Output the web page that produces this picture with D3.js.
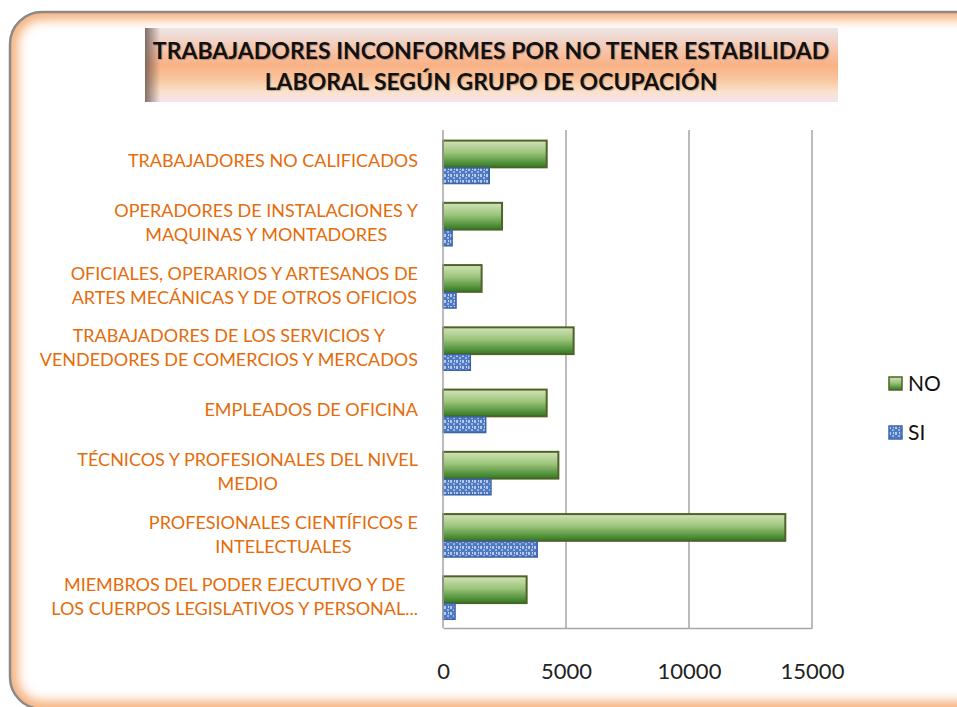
<!DOCTYPE html>
<html>
<head>
<meta charset="utf-8">
<script src="https://cdn.jsdelivr.net/npm/d3@7"></script>
<style>
  html, body { margin: 0; padding: 0; background: #fff; overflow: hidden; }
  svg { display: block; }
</style>
</head>
<body>
<svg id="chart" width="957" height="707"></svg>
<script>
// categories, top to bottom as shown
var categories = [
  ["TRABAJADORES NO CALIFICADOS"],
  ["OPERADORES DE INSTALACIONES Y", "MAQUINAS Y MONTADORES"],
  ["OFICIALES, OPERARIOS Y ARTESANOS DE", "ARTES MECÁNICAS Y DE OTROS OFICIOS"],
  ["TRABAJADORES DE LOS SERVICIOS Y", "VENDEDORES DE COMERCIOS Y MERCADOS"],
  ["EMPLEADOS DE OFICINA"],
  ["TÉCNICOS Y PROFESIONALES DEL NIVEL", "MEDIO"],
  ["PROFESIONALES CIENTÍFICOS E", "INTELECTUALES"],
  ["MIEMBROS DEL PODER EJECUTIVO Y DE", "LOS CUERPOS LEGISLATIVOS Y PERSONAL..."]
];
var noValues = [4215, 2400, 1570, 5310, 4215, 4690, 13915, 3400];
var siValues = [1880, 370, 530, 1110, 1735, 1950, 3830, 490];
var xTicks = [0, 5000, 10000, 15000];
var seriesNames = ["NO", "SI"];
var titleLines = ["TRABAJADORES INCONFORMES POR NO TENER ESTABILIDAD", "LABORAL SEGÚN GRUPO DE OCUPACIÓN"];

var svg = d3.select("#chart");
var defs = svg.append("defs");

// ---- gradients / patterns
var frameClip = defs.append("clipPath").attr("id", "frameClip");
frameClip.append("rect").attr("x", 10).attr("y", 12).attr("width", 1000).attr("height", 697).attr("rx", 32);

defs.append("filter").attr("id", "glow").attr("x", "-10%").attr("y", "-10%").attr("width", "120%").attr("height", "120%")
  .append("feGaussianBlur").attr("stdDeviation", 6);

var tg = defs.append("linearGradient").attr("id", "titleGrad").attr("x1", 0).attr("y1", 0).attr("x2", 0).attr("y2", 1);
[[0, "#ebe5e6"], [0.18, "#f2d2c4"], [0.5, "#f9b185"], [0.68, "#f9c39c"], [0.85, "#fbe0c8"], [1, "#f6e4ee"]]
  .forEach(function(s) { tg.append("stop").attr("offset", s[0]).attr("stop-color", s[1]); });

var tgl = defs.append("linearGradient").attr("id", "titleLeft").attr("x1", 0).attr("y1", 0).attr("x2", 1).attr("y2", 0);
tgl.append("stop").attr("offset", 0).attr("stop-color", "#6e5a52").attr("stop-opacity", 0.85);
tgl.append("stop").attr("offset", 0.022).attr("stop-color", "#6e5a52").attr("stop-opacity", 0);

var gNo = defs.append("linearGradient").attr("id", "noGrad").attr("x1", 0).attr("y1", 0).attr("x2", 0).attr("y2", 1);
[[0, "#d2e3b8"], [0.45, "#9cc47a"], [1, "#2f7a1f"]]
  .forEach(function(s) { gNo.append("stop").attr("offset", s[0]).attr("stop-color", s[1]); });

var pat = defs.append("pattern").attr("id", "siPat").attr("width", 6).attr("height", 6).attr("patternUnits", "userSpaceOnUse");
pat.append("rect").attr("width", 6).attr("height", 6).attr("fill", "#4f79c0");
pat.append("rect").attr("x", 0).attr("y", 0).attr("width", 2).attr("height", 3).attr("fill", "#b4c9ec");
pat.append("rect").attr("x", 3).attr("y", 3).attr("width", 2).attr("height", 2).attr("fill", "#9ab5e4");
pat.append("rect").attr("x", 4).attr("y", 0).attr("width", 1).attr("height", 2).attr("fill", "#c9d8f2");

// ---- outer frame
var fg = svg.append("g").attr("clip-path", "url(#frameClip)");
fg.append("rect").attr("x", 10).attr("y", 12).attr("width", 1000).attr("height", 697).attr("fill", "#fff");
fg.append("rect").attr("x", 10).attr("y", 12).attr("width", 1000).attr("height", 697).attr("rx", 32)
  .attr("fill", "none").attr("stroke", "#f4a56a").attr("stroke-width", 14).attr("filter", "url(#glow)");
svg.append("rect").attr("x", 10).attr("y", 12).attr("width", 1000).attr("height", 697).attr("rx", 32)
  .attr("fill", "none").attr("stroke", "#8a8a8a").attr("stroke-width", 2.5);

// ---- title
svg.append("rect").attr("x", 145).attr("y", 28).attr("width", 693).attr("height", 74).attr("fill", "url(#titleGrad)");
svg.append("rect").attr("x", 145).attr("y", 28).attr("width", 693).attr("height", 74).attr("fill", "url(#titleLeft)");
svg.append("g").selectAll("text").data(titleLines).join("text")
  .attr("x", 491).attr("y", function(d, i) { return 59 + i * 31; })
  .attr("text-anchor", "middle")
  .attr("font-family", "Lato, sans-serif").attr("font-weight", "bold").attr("font-size", 23)
  .attr("fill", "#111")
  .style("text-shadow", "1px 1px 1px rgba(0,0,0,0.25)")
  .text(function(d) { return d; });

// ---- plot
var x = d3.scaleLinear().domain([0, 15000]).range([443, 812]);
var y = d3.scaleBand().domain(d3.range(categories.length)).range([130, 628]).paddingInner(0).paddingOuter(0);
var bw = y.bandwidth();

// gridlines
svg.append("g").selectAll("line").data(xTicks.slice(1)).join("line")
  .attr("x1", x).attr("x2", x).attr("y1", 130).attr("y2", 628)
  .attr("stroke", "#a6a6a6").attr("stroke-width", 1.5);

// x axis
var xAxis = d3.axisBottom(x).tickValues(xTicks).tickSize(0).tickPadding(0).tickFormat(d3.format("d"));
var gx = svg.append("g").attr("transform", "translate(0,628)").call(xAxis);
gx.select(".domain").attr("stroke", "#a6a6a6").attr("stroke-width", 1.5);
gx.selectAll("text").attr("y", 51).attr("dy", 0)
  .attr("font-family", "Lato, sans-serif").attr("font-size", 22).attr("fill", "#222");

// bars
svg.append("g").selectAll("rect").data(noValues).join("rect")
  .attr("x", x(0)).attr("y", function(d, i) { return y(i) + bw * 0.17; })
  .attr("width", function(d) { return x(d) - x(0); }).attr("height", bw * 0.43)
  .attr("fill", "url(#noGrad)").attr("stroke", "#4f6228").attr("stroke-width", 2);
svg.append("g").selectAll("rect").data(siValues).join("rect")
  .attr("x", x(0)).attr("y", function(d, i) { return y(i) + bw * 0.61; })
  .attr("width", function(d) { return x(d) - x(0); }).attr("height", bw * 0.25)
  .attr("fill", "url(#siPat)").attr("stroke", "#3b64a8").attr("stroke-width", 1.5);

// y axis line
svg.append("line").attr("x1", x(0)).attr("x2", x(0)).attr("y1", 130).attr("y2", 628)
  .attr("stroke", "#a6a6a6").attr("stroke-width", 1.5);

// category labels
var lab = svg.append("g").attr("font-family", "Lato, sans-serif").attr("font-size", 18).attr("fill", "#e46c0a");
categories.forEach(function(lines, i) {
  var cy = y(i) + bw / 2;
  var g = lab.append("g");
  var t = g.selectAll("text").data(lines).join("text")
    .attr("text-anchor", "middle")
    .attr("y", function(d, j) { return cy + (j - (lines.length - 1) / 2) * 24 + 6; })
    .text(function(d) { return d; });
  var maxW = d3.max(t.nodes(), function(n) { return n.getComputedTextLength(); });
  t.attr("x", 418 - maxW / 2);
});

// legend
var leg = svg.append("g").selectAll("g").data(seriesNames).join("g")
  .attr("transform", function(d, i) { return "translate(889," + (377 + i * 49) + ")"; });
leg.append("rect").attr("width", 13).attr("height", 13)
  .attr("fill", function(d, i) { return i === 0 ? "url(#noGrad)" : "url(#siPat)"; })
  .attr("stroke", function(d, i) { return i === 0 ? "#4f6228" : "#3b64a8"; }).attr("stroke-width", 1.5);
leg.append("text").attr("x", 19).attr("y", 14)
  .attr("font-family", "Lato, sans-serif").attr("font-size", 21).attr("fill", "#111")
  .text(function(d) { return d; });
</script>
</body>
</html>
